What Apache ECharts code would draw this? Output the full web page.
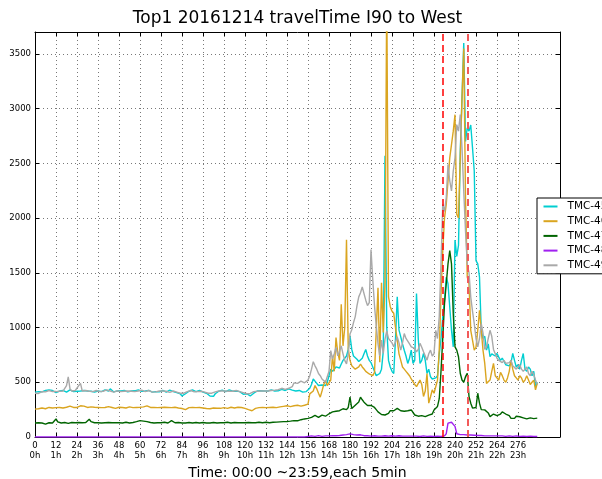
<!DOCTYPE html>
<html>
<head>
<meta charset="utf-8">
<script src="https://cdn.jsdelivr.net/npm/echarts@6/dist/echarts.min.js"></script>
<style>
  html, body { margin: 0; padding: 0; background: #fff; overflow: hidden; }
  #chart { width: 602px; height: 479px; }
</style>
</head>
<body>
<div id="chart"></div>
<script>
// Travel time per 5-minute slot (288 slots, 00:00 - 23:55), one array per TMC segment.
const tmc45 = [
  410,405,415,420,412,418,425,420,430,445,425,415,
  405,410,420,418,425,415,410,420,430,422,415,425,
  418,412,420,416,425,430,420,412,418,405,410,422,
  420,428,415,418,430,425,420,440,425,412,418,422,
  430,420,415,425,418,412,405,420,428,422,418,430,
  425,418,412,420,430,425,418,410,405,415,420,412,
  418,425,415,410,420,428,420,415,410,405,400,395,
  375,380,395,410,418,425,430,420,415,420,425,418,
  410,405,400,390,375,365,372,395,410,418,422,428,
  420,415,425,430,422,418,412,420,425,415,400,390,
  380,395,405,375,380,400,412,420,415,422,428,420,
  415,420,425,430,428,420,415,422,430,435,428,425,
  430,440,433,428,425,420,418,425,415,410,420,415,
  420,445,480,530,510,490,470,460,475,485,470,500,
  560,620,600,610,640,650,630,667,700,720,740,800,
  925,800,740,730,710,690,700,720,760,800,740,700,
  680,640,600,560,545,580,620,780,2570,1000,700,640,
  600,580,900,1280,976,915,850,793,740,672,720,793,
  672,700,1310,900,672,700,763,700,580,620,550,530,
  520,540,560,760,900,1097,1248,1460,1400,1188,975,824,
  1800,1650,1750,2600,3100,3600,2700,2824,2794,2850,2642,2430,
  1612,1582,1460,975,900,920,794,850,733,760,763,740,
  763,730,700,720,690,660,642,650,680,763,700,640,
  660,620,700,763,620,600,640,620,560,600,460,500
];
const tmc46 = [
  255,260,258,262,265,260,258,262,270,268,265,262,
  268,272,270,275,265,268,272,278,282,275,270,265,
  270,278,285,290,282,275,270,268,275,280,272,268,
  270,275,268,265,270,272,278,275,270,265,262,268,
  272,275,270,268,265,270,275,272,268,265,270,275,
  272,268,275,280,285,278,270,265,270,272,268,265,
  270,275,272,268,270,265,268,275,272,270,265,268,
  260,245,250,262,268,272,270,265,268,272,270,268,
  265,262,260,255,258,262,265,268,262,258,262,265,
  268,265,262,268,272,270,265,268,272,275,270,265,
  262,258,250,232,240,258,262,265,268,265,270,272,
  268,265,270,275,272,270,268,272,275,278,280,282,
  285,280,278,282,285,288,290,285,282,288,290,292,
  300,394,380,420,470,440,400,364,420,480,515,470,
  455,520,742,600,909,773,700,1212,833,1000,1803,803,
  700,652,640,620,606,640,667,640,621,600,590,576,
  576,560,590,600,1364,682,1409,955,1400,4100,1280,1190,
  1150,1130,1000,885,760,700,640,620,600,580,560,530,
  505,480,460,490,520,480,370,420,580,309,368,430,
  400,385,520,800,1300,1700,2000,2127,2340,2550,2550,2794,
  2945,2036,2000,2550,3097,3550,2190,1460,1400,975,885,794,
  820,975,1157,975,794,672,490,500,520,600,672,560,
  550,520,590,560,520,500,540,600,702,620,560,540,
  520,560,540,500,520,560,520,480,500,520,430,490
];
const tmc47 = [
  128,125,130,132,128,122,118,125,130,132,128,135,
  165,138,132,128,130,132,128,125,130,132,135,130,
  128,132,135,130,128,132,138,162,140,132,130,128,
  130,132,128,125,130,135,132,128,130,133,130,128,
  130,132,128,130,135,132,128,130,133,135,140,142,
  150,138,145,152,140,135,132,130,128,132,130,128,
  130,132,135,130,128,132,150,135,130,128,132,130,
  128,125,128,130,132,130,128,130,132,130,128,130,
  132,130,128,130,128,130,132,130,128,132,130,128,
  130,132,135,130,128,130,132,134,130,128,130,132,
  130,128,132,135,130,128,130,132,135,133,130,132,
  135,132,130,133,135,138,136,140,138,142,140,145,
  142,140,145,148,150,152,148,155,158,160,165,167,
  170,175,180,190,197,185,180,190,200,195,190,205,
  212,220,230,242,235,225,240,250,258,245,250,270,
  364,260,270,290,303,320,364,340,318,300,288,295,
  288,280,270,250,230,212,205,197,201,190,215,240,
  226,240,250,262,255,240,247,235,232,240,245,247,
  230,201,195,190,186,195,190,186,195,200,201,210,
  247,240,279,350,600,900,1218,1400,1582,1703,1582,1127,
  824,794,733,582,521,500,551,582,370,309,264,270,
  270,400,309,250,240,248,235,220,186,200,210,200,
  195,205,210,230,247,210,200,195,170,185,170,190,
  200,185,170,175,190,165,180,175,165,168,170,172
];
const tmc48 = [
  0,0,0,0,0,0,0,0,0,0,0,0,
  0,0,0,0,0,0,0,0,0,0,0,0,
  0,0,0,0,0,0,0,0,0,0,0,0,
  0,0,0,0,0,0,0,0,0,0,0,0,
  0,0,0,0,0,0,0,0,0,0,0,0,
  0,0,0,0,0,0,0,0,0,0,0,0,
  0,0,0,0,0,0,0,0,0,0,0,0,
  0,0,0,0,0,0,0,0,0,0,0,0,
  0,0,0,0,0,0,0,0,0,0,0,0,
  0,0,0,0,0,0,0,0,0,0,0,0,
  0,0,0,0,0,0,0,0,0,0,0,0,
  0,0,0,0,0,0,0,0,0,0,0,0,
  0,0,0,0,0,0,0,0,0,0,0,0,
  5,8,10,8,6,10,12,8,6,8,10,12,
  10,8,12,15,12,10,14,16,18,20,22,25,
  28,25,22,20,18,22,20,15,12,10,12,10,
  8,10,12,10,8,6,8,10,12,10,8,10,
  12,10,8,10,12,10,8,6,8,10,8,6,
  8,10,8,6,5,8,10,8,6,5,8,6,
  5,6,8,6,5,8,10,30,127,133,135,130,
  97,30,25,22,20,22,20,18,20,18,15,16,
  15,14,12,14,12,10,12,10,8,10,12,10,
  8,10,12,10,8,6,8,10,8,6,8,10,
  8,6,5,8,6,5,6,8,5,4,5,4
];
const tmc49 = [
  400,405,398,410,415,420,412,418,425,420,415,410,
  415,420,418,425,420,430,470,550,440,420,418,425,
  430,470,490,420,415,425,420,418,410,415,420,425,
  420,415,412,418,425,430,425,420,415,410,418,422,
  420,415,410,418,425,420,415,418,422,415,410,420,
  425,428,420,415,418,425,420,410,405,412,418,420,
  415,420,425,418,412,408,415,420,418,410,405,400,
  395,400,410,415,420,425,418,412,420,415,410,418,
  415,410,405,400,395,400,408,412,418,420,425,420,
  415,420,425,418,412,418,420,425,420,415,410,405,
  400,395,405,398,410,415,420,418,425,420,415,420,
  425,420,418,425,430,428,425,432,438,445,440,435,
  440,445,440,460,495,505,490,500,510,500,495,510,
  520,560,620,688,650,620,580,560,530,520,500,485,
  600,790,712,760,818,742,780,833,760,700,667,760,
  940,980,1045,1100,1200,1280,1318,1370,1373,1250,1200,1227,
  1712,1440,1200,1015,850,742,885,763,894,970,900,885,
  860,824,870,915,860,794,860,945,900,885,850,824,
  840,810,778,800,855,820,778,740,702,760,794,740,
  760,975,900,1100,1582,2127,2060,2188,2490,2340,2248,2430,
  2551,2854,2794,2945,2642,2248,1885,1582,1500,1279,1150,1036,
  900,824,900,1036,950,800,820,900,975,920,800,760,
  720,700,690,680,700,672,660,680,700,650,640,620,
  640,660,620,600,610,640,580,560,600,570,520,480
];

const seriesNames = ['TMC-45', 'TMC-46', 'TMC-47', 'TMC-48', 'TMC-49'];
const seriesValues = [tmc45, tmc46, tmc47, tmc48, tmc49];
const seriesColors = ['#00CED1', '#DAA520', '#006400', '#A020F0', '#A9A9A9'];

// Tick positions (slot index) and the hour each one marks.
const xTicks = [0,12,24,36,48,60,72,84,96,108,120,132,144,156,168,180,192,204,216,228,240,252,264,276];
const hourLabels = ['0h','1h','2h','3h','4h','5h','6h','7h','8h','9h','10h','11h',
                    '12h','13h','14h','15h','16h','17h','18h','19h','20h','21h','22h','23h'];
const yTicks = [0, 500, 1000, 1500, 2000, 2500, 3000, 3500];

// Window of interest, marked with dashed red lines (slot index).
const windowSlots = [233, 247];

const FONT = 'DejaVu Sans';
const chart = echarts.init(document.getElementById('chart'), null, {
  renderer: 'canvas', width: 602, height: 479
});

const frameAxisLine = { show: true, onZero: false, lineStyle: { color: '#000', width: 1 } };
const gridLine = { show: true, lineStyle: { color: '#555', width: 0.8, type: [1, 3] } };

const series = seriesNames.map((name, k) => ({
  name,
  type: 'line',
  data: seriesValues[k].map((v, i) => [i, v]),
  showSymbol: false,
  symbol: 'none',
  clip: true,
  lineStyle: { color: seriesColors[k], width: 1.4 },
  itemStyle: { color: seriesColors[k] },
  animation: false,
  z: 2
}));

series[0].markLine = {
  silent: true,
  symbol: ['none', 'none'],
  label: { show: false },
  animation: false,
  data: windowSlots.map((x, k) => ({
    xAxis: x,
    lineStyle: k === 0
      ? { color: '#ff0000', width: 1.5, type: [7, 4] }
      : { color: '#f25a5a', width: 2, type: [7, 4] }
  }))
};

chart.setOption({
  animation: false,
  backgroundColor: '#fff',
  textStyle: { fontFamily: FONT },
  title: {
    text: 'Top1 20161214 travelTime I90 to West',
    left: 297.5,
    top: 10,
    textAlign: 'center',
    padding: 0,
    textStyle: { fontFamily: FONT, fontSize: 17, fontWeight: 'normal', color: '#000' }
  },
  grid: { left: 35, right: 42, top: 32, bottom: 42, containLabel: false, outerBoundsMode: 'none' },
  legend: {
    data: seriesNames,
    orient: 'vertical',
    left: 537,
    top: 198,
    icon: 'rect',
    itemWidth: 14,
    itemHeight: 2,
    itemGap: 3.7,
    padding: [3, 30, 3, 6.5],
    backgroundColor: '#fff',
    borderColor: '#000',
    borderWidth: 1,
    borderRadius: 0,
    textStyle: { fontFamily: FONT, fontSize: 10.5, color: '#000', lineHeight: 10.5, padding: [0, 0, 0, 5] },
    selectedMode: false
  },
  xAxis: [{
    type: 'value',
    min: 0,
    max: 300,
    interval: 12,
    position: 'bottom',
    name: 'Time: 00:00 ~23:59,each 5min',
    nameLocation: 'middle',
    nameGap: 27,
    nameTextStyle: { fontFamily: FONT, fontSize: 14, color: '#000' },
    axisLine: frameAxisLine,
    axisTick: { show: true, inside: true, length: 4, customValues: xTicks, lineStyle: { color: '#000' } },
    axisLabel: {
      customValues: xTicks,
      formatter: v => v + '\n' + hourLabels[xTicks.indexOf(v)],
      fontFamily: FONT, fontSize: 8.5, color: '#000', lineHeight: 10, margin: 4
    },
    splitLine: gridLine
  }, {
    type: 'value',
    min: 0,
    max: 300,
    interval: 12,
    position: 'top',
    axisLine: frameAxisLine,
    axisTick: { show: true, inside: true, length: 4, customValues: xTicks, lineStyle: { color: '#000' } },
    axisLabel: { show: false },
    splitLine: { show: false }
  }],
  yAxis: [{
    type: 'value',
    min: 0,
    max: 3700,
    interval: 500,
    position: 'left',
    axisLine: frameAxisLine,
    axisTick: { show: true, inside: true, length: 4, customValues: yTicks, lineStyle: { color: '#000' } },
    axisLabel: {
      customValues: yTicks,
      formatter: v => String(v),
      fontFamily: FONT, fontSize: 8.5, color: '#000', margin: 4
    },
    splitLine: gridLine
  }, {
    type: 'value',
    min: 0,
    max: 3700,
    interval: 500,
    position: 'right',
    axisLine: frameAxisLine,
    axisTick: { show: true, inside: true, length: 4, customValues: yTicks, lineStyle: { color: '#000' } },
    axisLabel: { show: false },
    splitLine: { show: false }
  }],
  series
});
</script>
</body>
</html>
